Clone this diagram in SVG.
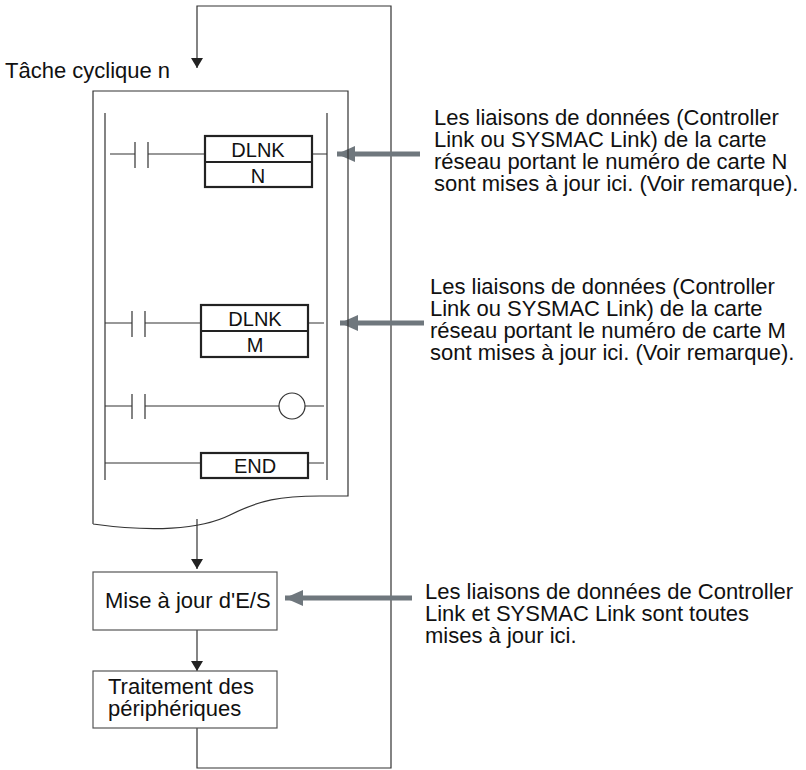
<svg xmlns="http://www.w3.org/2000/svg" width="806" height="770" viewBox="0 0 806 770">
<defs>
<marker id="ah" markerWidth="10" markerHeight="12" refX="10" refY="6" orient="auto" markerUnits="userSpaceOnUse"><path d="M0,0 L10,6 L0,12 z" fill="#222"/></marker>
<marker id="gh" markerWidth="18" markerHeight="16" refX="18" refY="8" orient="auto" markerUnits="userSpaceOnUse"><path d="M0,0 L18,8 L0,16 z" fill="#6f777d"/></marker>
</defs>
<style>
text{font-family:"Liberation Sans",Arial,sans-serif;font-size:22px;fill:#111}
.s{font-size:20px}
.l{fill:none;stroke:#333;stroke-width:1.2}
.b{fill:#fff;stroke:#222;stroke-width:2.2}
.n{fill:#fff;stroke:#555;stroke-width:1.2}
.g{stroke:#6f777d;stroke-width:5;fill:none}
.c{text-anchor:middle}
</style>
<g id="connectors">
<path class="l" d="M197,519 V569" marker-end="url(#ah)"/>
<path class="l" d="M197,630 V671" marker-end="url(#ah)"/>
<path class="l" d="M197,728 V768 H391 V6 H197 V68" marker-end="url(#ah)"/>
<path class="g" d="M420,154 H337" marker-end="url(#gh)"/>
<path class="g" d="M424,323 H340" marker-end="url(#gh)"/>
<path class="g" d="M412,598 H285" marker-end="url(#gh)"/>
</g>
<text x="5" y="78">Tâche cyclique n</text>
<g id="program">
<path class="l" stroke="#555" d="M93,524 V91 H348 V496 H320 C280,496 260,500 230,515 C200,530 150,532 93,524"/>
<path class="l" d="M105,113 V480 M327,113 V480"/>
<path class="l" d="M110,154 H135 M135,142 V168 M148,142 V168 M148,154 H205 M312,154 H327"/>
<rect class="b" x="205" y="136" width="107" height="51"/><path class="b" d="M205,162 H312"/>
<text class="c s" x="258" y="157">DLNK</text><text class="c s" x="258" y="183">N</text>
<path class="l" d="M105,323 H132 M132,311 V337 M145,311 V337 M145,323 H201 M308,323 H324"/>
<rect class="b" x="201" y="305" width="107" height="52"/><path class="b" d="M201,331 H308"/>
<text class="c s" x="255" y="326">DLNK</text><text class="c s" x="255" y="352">M</text>
<path class="l" d="M105,406 H132 M132,394 V419 M145,394 V419 M145,406 H279 M305,406 H324"/>
<circle class="l" cx="292" cy="406" r="13"/>
<path class="l" d="M105,463 H201 M308,463 H324"/>
<rect class="b" x="201" y="453" width="107" height="25"/>
<text class="c s" x="255" y="473">END</text>
</g>
<g id="io"><rect class="n" x="93" y="572" width="184" height="58"/><text x="105" y="608">Mise à jour d'E/S</text></g>
<g id="periph"><rect class="n" x="93" y="671" width="184" height="57"/><text x="108" y="694">Traitement des</text><text x="108" y="716">périphériques</text></g>
<g id="note1"><text x="434" y="125">Les liaisons de données (Controller</text><text x="434" y="147">Link ou SYSMAC Link) de la carte</text><text x="434" y="169">réseau portant le numéro de carte N</text><text x="434" y="191">sont mises à jour ici. (Voir remarque).</text></g>
<g id="note2"><text x="430" y="294">Les liaisons de données (Controller</text><text x="430" y="316">Link ou SYSMAC Link) de la carte</text><text x="430" y="338">réseau portant le numéro de carte M</text><text x="430" y="360">sont mises à jour ici. (Voir remarque).</text></g>
<g id="note3"><text x="425" y="599">Les liaisons de données de Controller</text><text x="425" y="621">Link et SYSMAC Link sont toutes</text><text x="425" y="643">mises à jour ici.</text></g>
</svg>
